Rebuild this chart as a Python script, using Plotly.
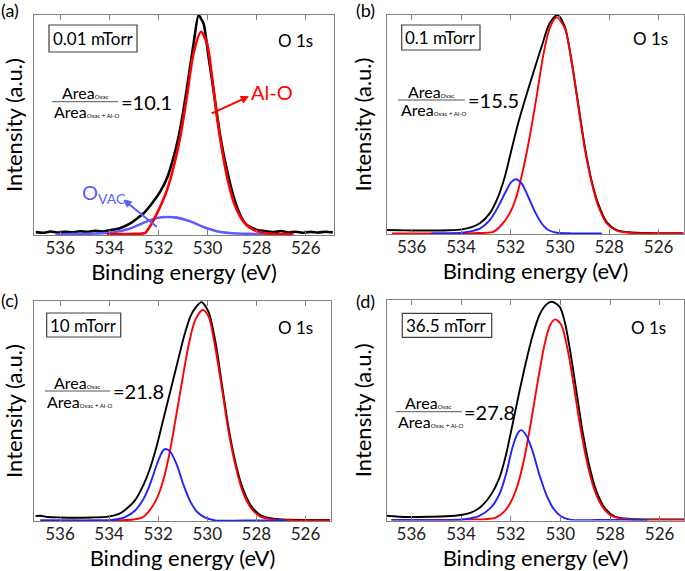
import math
import plotly.graph_objects as go

# ---------------- data (normalised intensity) ----------------
# Panel (a) 0.01 mTorr
black_a_x = [537.0, 536.7, 536.4, 536.1, 535.8, 535.5, 535.2, 534.9, 534.6, 534.3, 533.96, 533.6, 533.15,
             532.6, 532.26, 531.93, 531.63, 531.38, 531.18, 530.98, 530.77, 530.57, 530.37, 530.16, 529.96,
             529.76, 529.48, 529.21, 528.94, 528.67, 528.4, 527.99, 527.6, 527.3, 527.0, 526.7, 526.4,
             526.1, 525.8, 525.5, 525.2, 524.9]
black_a_y = [0.013, 0.010, 0.016, 0.011, 0.015, 0.012, 0.017, 0.014, 0.019, 0.016, 0.022, 0.030, 0.053,
             0.099, 0.144, 0.197, 0.265, 0.356, 0.447, 0.568, 0.720, 0.870, 1.000, 0.960, 0.810,
             0.660, 0.447, 0.295, 0.174, 0.091, 0.045, 0.023, 0.017, 0.013, 0.018, 0.011, 0.015,
             0.010, 0.014, 0.011, 0.015, 0.012]
red_a_x = [534.1, 533.5, 533.0, 532.54, 532.4, 532.2, 531.93, 531.65, 531.38, 531.11, 530.84, 530.57, 530.27,
           530.02, 529.82, 529.62, 529.41, 529.15, 528.87, 528.53, 528.13, 527.6, 527.0, 526.5]
red_a_y = [0.004, 0.004, 0.005, 0.010, 0.030, 0.068, 0.129, 0.205, 0.310, 0.447, 0.630, 0.826, 0.924,
           0.870, 0.720, 0.540, 0.386, 0.235, 0.129, 0.060, 0.023, 0.008, 0.004, 0.004]
blue_a_x = [536.2, 535.2, 533.96, 533.15, 532.47, 532.06, 531.65, 531.25, 530.7, 530.16, 529.62, 529.1, 528.3, 527.2]
blue_a_y = [0.003, 0.005, 0.010, 0.030, 0.062, 0.077, 0.082, 0.079, 0.062, 0.036, 0.017, 0.009, 0.005, 0.003]

# Panel (b) 0.1 mTorr
black_b_x = [537.0, 536.5, 536.0, 535.5, 535.0, 534.5, 533.96, 533.6, 533.24, 532.84, 532.5, 532.23, 531.96,
             531.69, 531.42, 531.08, 530.74, 530.41, 530.09, 529.8, 529.53, 529.26, 528.99, 528.72, 528.45,
             528.11, 527.7, 527.2, 526.6, 526.0, 525.5, 525.0]
black_b_y = [0.018, 0.017, 0.016, 0.016, 0.016, 0.017, 0.021, 0.030, 0.049, 0.094, 0.170, 0.260, 0.384,
             0.505, 0.610, 0.734, 0.855, 0.962, 1.000, 0.947, 0.795, 0.597, 0.400, 0.247, 0.140,
             0.056, 0.018, 0.008, 0.005, 0.004, 0.004, 0.004]
red_b_x = [536.8, 535.5, 534.5, 533.5, 532.7, 532.43, 532.03, 531.76, 531.49, 531.22, 530.94, 530.68, 530.41,
           530.13, 529.8, 529.53, 529.26, 528.99, 528.72, 528.45, 528.11, 527.7, 527.0, 526.0, 525.0]
red_b_y = [0.003, 0.003, 0.003, 0.004, 0.010, 0.033, 0.094, 0.170, 0.292, 0.444, 0.627, 0.810, 0.940,
           0.989, 0.940, 0.790, 0.590, 0.390, 0.240, 0.130, 0.050, 0.015, 0.004, 0.003, 0.003]
blue_b_x = [535.2, 534.5, 533.96, 533.24, 532.84, 532.5, 532.23, 531.96, 531.78, 531.55, 531.28, 531.01,
            530.74, 530.47, 530.13, 529.5, 528.3]
blue_b_y = [0.002, 0.003, 0.006, 0.025, 0.063, 0.124, 0.185, 0.238, 0.250, 0.231, 0.170, 0.102,
            0.049, 0.018, 0.006, 0.003, 0.002]

# Panel (c) 10 mTorr
black_c_x = [537.0, 536.8, 536.5, 536.0, 535.39, 534.7, 534.03, 533.6, 533.35, 532.94, 532.6, 532.33, 532.05,
             531.78, 531.51, 531.24, 530.97, 530.69, 530.45, 530.24, 529.95, 529.67, 529.4, 529.13, 528.86,
             528.58, 528.24, 527.84, 527.3, 526.6, 526.0, 525.5, 525.0]
black_c_y = [0.022, 0.024, 0.018, 0.016, 0.015, 0.016, 0.020, 0.032, 0.050, 0.095, 0.164, 0.240, 0.345,
             0.467, 0.588, 0.709, 0.830, 0.929, 0.974, 0.995, 0.951, 0.815, 0.618, 0.421, 0.270,
             0.156, 0.073, 0.027, 0.010, 0.006, 0.005, 0.005, 0.005]
red_c_x = [536.8, 535.5, 534.5, 533.5, 533.0, 532.67, 532.4, 532.12, 531.85, 531.58, 531.31, 531.03, 530.76,
           530.49, 530.19, 529.95, 529.67, 529.4, 529.13, 528.86, 528.58, 528.24, 527.84, 527.2, 526.5, 525.0]
red_c_y = [0.003, 0.003, 0.003, 0.004, 0.007, 0.015, 0.042, 0.088, 0.164, 0.285, 0.451, 0.633, 0.800,
           0.914, 0.959, 0.930, 0.785, 0.600, 0.405, 0.255, 0.140, 0.062, 0.020, 0.006, 0.003, 0.003]
blue_c_x = [536.8, 535.5, 534.5, 534.03, 533.35, 532.94, 532.6, 532.33, 532.05, 531.82, 531.71, 531.51,
            531.24, 530.97, 530.69, 530.42, 530.08, 529.67, 528.5, 526.8]
blue_c_y = [0.002, 0.002, 0.002, 0.003, 0.018, 0.048, 0.100, 0.168, 0.259, 0.318, 0.327, 0.315,
            0.255, 0.164, 0.088, 0.042, 0.015, 0.003, 0.002, 0.002]

# Panel (d) 36.5 mTorr
black_d_x = [537.0, 536.8, 536.5, 536.0, 535.31, 534.6, 534.0, 533.6, 533.28, 532.8, 532.46, 532.19, 531.93,
             531.65, 531.38, 531.11, 530.84, 530.56, 530.34, 530.03, 529.82, 529.62, 529.35, 529.08, 528.81,
             528.54, 528.2, 527.79, 527.2, 526.5, 525.8, 525.0]
black_d_y = [0.022, 0.020, 0.017, 0.016, 0.017, 0.019, 0.025, 0.036, 0.055, 0.116, 0.191, 0.297, 0.433,
             0.584, 0.720, 0.841, 0.932, 0.980, 0.992, 0.970, 0.900, 0.780, 0.584, 0.388, 0.237,
             0.131, 0.055, 0.017, 0.007, 0.005, 0.005, 0.005]
red_d_x = [536.8, 535.5, 534.5, 533.5, 533.0, 532.6, 532.26, 531.99, 531.72, 531.45, 531.18, 530.91, 530.64,
           530.41, 530.2, 529.96, 529.69, 529.42, 529.14, 528.87, 528.6, 528.26, 527.86, 527.0, 526.0, 525.0]
red_d_y = [0.003, 0.003, 0.003, 0.004, 0.006, 0.013, 0.040, 0.085, 0.161, 0.282, 0.448, 0.630, 0.796,
           0.887, 0.912, 0.887, 0.766, 0.584, 0.388, 0.237, 0.131, 0.055, 0.017, 0.004, 0.003, 0.003]
blue_d_x = [536.8, 535.5, 534.6, 534.0, 533.28, 532.8, 532.46, 532.19, 531.93, 531.72, 531.59, 531.38,
            531.11, 530.84, 530.56, 530.29, 529.96, 529.62, 528.5, 526.5]
blue_d_y = [0.002, 0.002, 0.002, 0.004, 0.020, 0.058, 0.118, 0.209, 0.330, 0.395, 0.410, 0.388,
            0.312, 0.206, 0.116, 0.056, 0.018, 0.004, 0.002, 0.002]

panel_labels = ["(a)", "(b)", "(c)", "(d)"]
pressures = ["0.01 mTorr", "0.1 mTorr", "10 mTorr", "36.5 mTorr"]
ratios = ["10.1", "15.5", "21.8", "27.8"]
tick_vals = [536, 534, 532, 530, 528, 526]
tick_text = ["536", "534", "532", "530", "528", "526"]

# ---------------- layout geometry (pixels) ----------------
W, H = 685, 571
FONT = "Lato"

def fx(p):
    return p / W

def fy(p):
    return 1 - p / H

# left, right, top, bottom (px) and x-range per panel
boxes = [(34, 334, 15, 235), (387, 684, 15, 234), (34, 331, 301, 521), (387, 684, 300, 520.5)]
xranges = [[537.07, 524.85], [537.0, 524.97], [537.06, 524.96], [536.98, 525.02]]

series = [
    (black_a_x, black_a_y, red_a_x, red_a_y, blue_a_x, blue_a_y),
    (black_b_x, black_b_y, red_b_x, red_b_y, blue_b_x, blue_b_y),
    (black_c_x, black_c_y, red_c_x, red_c_y, blue_c_x, blue_c_y),
    (black_d_x, black_d_y, red_d_x, red_d_y, blue_d_x, blue_d_y),
]

fig = go.Figure()
layout = dict(
    width=W, height=H, margin=dict(l=0, r=0, t=0, b=0, autoexpand=False),
    paper_bgcolor="white", plot_bgcolor="white", showlegend=False,
    font=dict(family=FONT, color="black"),
)

for i, (bx, by, rx, ry, ux, uy) in enumerate(series):
    xa = "x" if i == 0 else f"x{i+1}"
    ya = "y" if i == 0 else f"y{i+1}"
    lw = 2.6 if i == 0 else 1.9
    blue_col = "#5c5cff" if i == 0 else "#2222ff"
    black_tr = go.Scatter(x=bx, y=by, mode="lines", xaxis=xa, yaxis=ya,
                          line=dict(color="black", width=lw, shape="spline", smoothing=0.5 if i == 0 else 0.8),
                          name="Measured")
    red_tr = go.Scatter(x=rx, y=ry, mode="lines", xaxis=xa, yaxis=ya,
                        line=dict(color="#ff0000", width=lw, shape="spline", smoothing=0.8), name="Al-O")
    blue_tr = go.Scatter(x=ux, y=uy, mode="lines", xaxis=xa, yaxis=ya,
                         line=dict(color=blue_col, width=lw, shape="spline", smoothing=0.8), name="O_VAC")
    if i == 0:
        fig.add_traces([black_tr, blue_tr, red_tr])
    else:
        fig.add_traces([black_tr, red_tr, blue_tr])

    l, r, t, b = boxes[i]
    xkey = "xaxis" if i == 0 else f"xaxis{i+1}"
    ykey = "yaxis" if i == 0 else f"yaxis{i+1}"
    layout[xkey] = dict(
        domain=[fx(l), fx(r)], anchor=ya, range=xranges[i], automargin=False,
        tickmode="array", tickvals=tick_vals, ticktext=tick_text,
        ticks="inside", ticklen=5, tickcolor="#808080", tickwidth=1, ticklabelstandoff=-2,
        showline=True, linecolor="#808080", linewidth=1, mirror="ticks",
        showgrid=False, zeroline=False,
        tickfont=dict(family=FONT, size=17, color="#222"),
        title=dict(text="Binding energy (eV)", font=dict(family=FONT, size=22, color="black"), standoff=5),
    )
    layout[ykey] = dict(
        domain=[fy(b), fy(t)], anchor=xa, range=[0, 1.0], automargin=False,
        showticklabels=False, ticks="", showline=True, linecolor="#808080", linewidth=1,
        mirror=True, showgrid=False, zeroline=False,
        title=dict(text="Intensity (a.u.)", font=dict(family=FONT, size=22, color="black"), standoff=8),
    )

fig.update_layout(**layout)

annotations = []
shapes = []

# panel labels
label_pos = [(10, 10), (366, 10), (9, 300), (366, 301)]
for lab, (x, y) in zip(panel_labels, label_pos):
    annotations.append(dict(text=lab, x=fx(x), y=fy(y), xref="paper", yref="paper",
                            showarrow=False, xanchor="center", yanchor="middle",
                            font=dict(family=FONT, size=18, color="black")))

# pressure boxes
rects = [(49, 25, 137, 52), (401.7, 25, 480, 50), (46.7, 313, 120.7, 337), (402.3, 313.3, 491.7, 337.3)]
for txt, (x0, y0, x1, y1) in zip(pressures, rects):
    shapes.append(dict(type="rect", xref="paper", yref="paper", x0=fx(x0), x1=fx(x1), y0=fy(y1), y1=fy(y0),
                       line=dict(color="#404040", width=1.2), fillcolor="white", layer="above"))
    annotations.append(dict(text=txt, x=fx((x0 + x1) / 2), y=fy((y0 + y1) / 2), xref="paper", yref="paper",
                            showarrow=False, xanchor="center", yanchor="middle",
                            font=dict(family=FONT, size=17, color="black")))

# O 1s labels
o1s_pos = [(295, 40), (650, 39), (295, 328), (648, 328)]
for (x, y) in o1s_pos:
    annotations.append(dict(text="O 1s", x=fx(x), y=fy(y), xref="paper", yref="paper", showarrow=False,
                            xanchor="center", yanchor="middle", font=dict(family=FONT, size=17, color="black")))

# area-ratio fractions: (line x0, line x1, line y, eq x)
fracs = [(52, 118, 101.7, 119), (398, 465, 100, 466), (45, 110, 391, 111), (395.7, 461.7, 411.7, 462)]
sub_small = "<span style='font-size:6px'>{}</span>"
for val, (x0, x1, ly, ex) in zip(ratios, fracs):
    shapes.append(dict(type="line", xref="paper", yref="paper", x0=fx(x0), x1=fx(x1), y0=fy(ly), y1=fy(ly),
                       line=dict(color="#555", width=1)))
    cx = (x0 + x1) / 2
    annotations.append(dict(text="Area" + sub_small.format("Ovac"), x=fx(cx), y=fy(ly - 9),
                            xref="paper", yref="paper", showarrow=False, xanchor="center", yanchor="middle",
                            font=dict(family=FONT, size=16, color="black")))
    annotations.append(dict(text="Area" + sub_small.format("Ovac + Al-O"), x=fx(cx + 2), y=fy(ly + 10),
                            xref="paper", yref="paper", showarrow=False, xanchor="center", yanchor="middle",
                            font=dict(family=FONT, size=16, color="black")))
    annotations.append(dict(text="=" + val, x=fx(ex), y=fy(ly), xref="paper", yref="paper", showarrow=False,
                            xanchor="left", yanchor="middle", font=dict(family=FONT, size=20, color="black")))

# Al-O and O_VAC labels (panel a)
annotations.append(dict(text="Al-O", x=fx(272), y=fy(92), xref="paper", yref="paper", showarrow=False,
                        xanchor="center", yanchor="middle", font=dict(family=FONT, size=20, color="#ff0000")))
annotations.append(dict(text="O<sub>VAC</sub>", x=fx(104), y=fy(193), xref="paper", yref="paper",
                        showarrow=False, xanchor="center", yanchor="middle",
                        font=dict(family=FONT, size=20, color="#5c5cff")))

# arrows as shapes (line + triangular head), pixel geometry
def arrow(x0, y0, x1, y1, color, head=7, half=3.5, width=2):
    dx, dy = x1 - x0, y1 - y0
    L = math.hypot(dx, dy)
    ux, uy = dx / L, dy / L
    bx, by = x1 - ux * head, y1 - uy * head
    px_, py_ = -uy, ux
    shapes.append(dict(type="line", xref="paper", yref="paper", x0=fx(x0), y0=fy(y0), x1=fx(bx), y1=fy(by),
                       line=dict(color=color, width=width)))
    p1 = (bx + px_ * half, by + py_ * half)
    p2 = (bx - px_ * half, by - py_ * half)
    path = "M {} {} L {} {} L {} {} Z".format(fx(x1), fy(y1), fx(p1[0]), fy(p1[1]), fx(p2[0]), fy(p2[1]))
    shapes.append(dict(type="path", xref="paper", yref="paper", path=path, fillcolor=color,
                       line=dict(color=color, width=1)))

arrow(211.7, 113.3, 248.3, 96.7, "#ff0000")
arrow(156.7, 226.7, 124, 200, "#5c5cff")

fig.update_layout(annotations=annotations, shapes=shapes)
fig.write_html("out.html", config={"displayModeBar": False},
               post_script="document.body.style.margin='0';document.body.style.overflow='hidden';")
